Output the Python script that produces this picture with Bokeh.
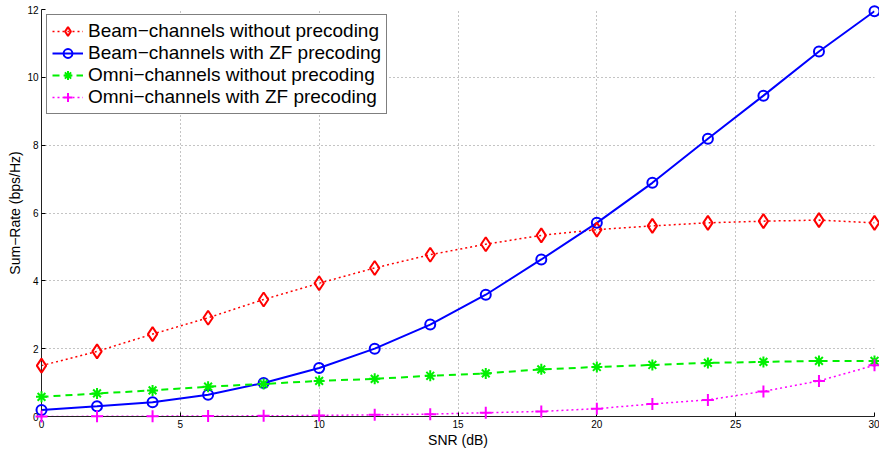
from bokeh.plotting import figure
from bokeh.models import FixedTicker, Range1d, Legend, LegendItem
from bokeh.embed import file_html
from bokeh.resources import INLINE

snr = [0, 2, 4, 6, 8, 10, 12, 14, 16, 18, 20, 22, 24, 26, 28, 30]
beam_no_prec = [1.50, 1.92, 2.43, 2.91, 3.45, 3.93, 4.38, 4.77, 5.08, 5.34, 5.51, 5.62, 5.71, 5.76, 5.79, 5.71]
beam_zf = [0.19, 0.30, 0.42, 0.64, 0.99, 1.43, 2.00, 2.71, 3.59, 4.63, 5.71, 6.89, 8.19, 9.46, 10.76, 11.95]
omni_no_prec = [0.58, 0.68, 0.77, 0.88, 0.96, 1.05, 1.11, 1.20, 1.27, 1.39, 1.46, 1.52, 1.58, 1.61, 1.64, 1.64]
omni_zf = [0.0, 0.005, 0.01, 0.015, 0.02, 0.03, 0.05, 0.07, 0.11, 0.15, 0.23, 0.37, 0.49, 0.74, 1.05, 1.51]

labels = [
    "Beam\u2212channels without precoding",
    "Beam\u2212channels with ZF precoding",
    "Omni\u2212channels without precoding",
    "Omni\u2212channels with ZF precoding",
]
x_ticks = [0, 5, 10, 15, 20, 25, 30]
y_ticks = [0, 2, 4, 6, 8, 10, 12]

FONT = "Liberation Sans"

p = figure(width=879, height=450, output_backend="svg", toolbar_location=None,
           x_range=Range1d(0, 30), y_range=Range1d(0, 12),
           min_border_left=41, min_border_top=9, min_border_right=5, min_border_bottom=0)
p.outline_line_color = None
p.background_fill_color = "white"
p.border_fill_color = "white"

for ax in (p.xaxis[0], p.yaxis[0]):
    ax.major_tick_in = 4
    ax.major_tick_out = 0
    ax.minor_tick_in = 0
    ax.minor_tick_out = 0
    ax.axis_line_color = "#222222"
    ax.major_tick_line_color = "black"
    ax.major_label_text_font = FONT
    ax.major_label_text_font_size = "10px"
    ax.major_label_text_color = "black"
    ax.axis_label_text_font = FONT
    ax.axis_label_text_font_size = "14px"
    ax.axis_label_text_font_style = "normal"
    ax.axis_label_text_color = "black"
    ax.major_label_standoff = 3
    ax.axis_label_standoff = 1

p.xaxis.ticker = FixedTicker(ticks=x_ticks)
p.yaxis.ticker = FixedTicker(ticks=y_ticks)
p.xaxis.axis_label = "SNR (dB)"
p.yaxis.axis_label = "Sum\u2212Rate (bps/Hz)"

for g in (p.xgrid[0], p.ygrid[0]):
    g.grid_line_color = "#888888"
    g.grid_line_dash = "1 3"
    g.grid_line_width = 1

r1l = p.line(snr, beam_no_prec, line_color="#ff0000", line_width=1.5, line_dash="2 3")
r1m = p.scatter(snr, beam_no_prec, marker="diamond", size=14, line_color="#ff0000",
                fill_color=None, line_width=2, level="overlay")
r2l = p.line(snr, beam_zf, line_color="#0000ff", line_width=2)
r2m = p.scatter(snr, beam_zf, marker="circle", size=10, line_color="#0000ff",
                fill_color=None, line_width=2, level="overlay")
r3l = p.line(snr, omni_no_prec, line_color="#00f000", line_width=2, line_dash="7 5")
r3m = p.scatter(snr, omni_no_prec, marker="asterisk", size=11, line_color="#00f000",
                line_width=2, level="overlay")
r4l = p.line(snr, omni_zf, line_color="#ff00ff", line_width=1.5, line_dash="2 3")
r4m = p.scatter(snr, omni_zf, marker="cross", size=12, line_color="#ff00ff", line_width=2,
                level="overlay")

legend = Legend(items=[
    LegendItem(label=labels[0], renderers=[r1l, r1m]),
    LegendItem(label=labels[1], renderers=[r2l, r2m]),
    LegendItem(label=labels[2], renderers=[r3l, r3m]),
    LegendItem(label=labels[3], renderers=[r4l, r4m]),
], location="top_left")
legend.margin = 5
legend.padding = 5
legend.spacing = 0
legend.glyph_width = 31
legend.glyph_height = 22
legend.label_height = 22
legend.label_standoff = 5
legend.label_text_font = FONT
legend.label_text_font_size = "19px"
legend.label_text_color = "black"
legend.border_line_color = "black"
legend.border_line_width = 1.5
legend.background_fill_color = "white"
legend.background_fill_alpha = 1.0
p.add_layout(legend)

open("out.html", "w").write(file_html(p, INLINE))
